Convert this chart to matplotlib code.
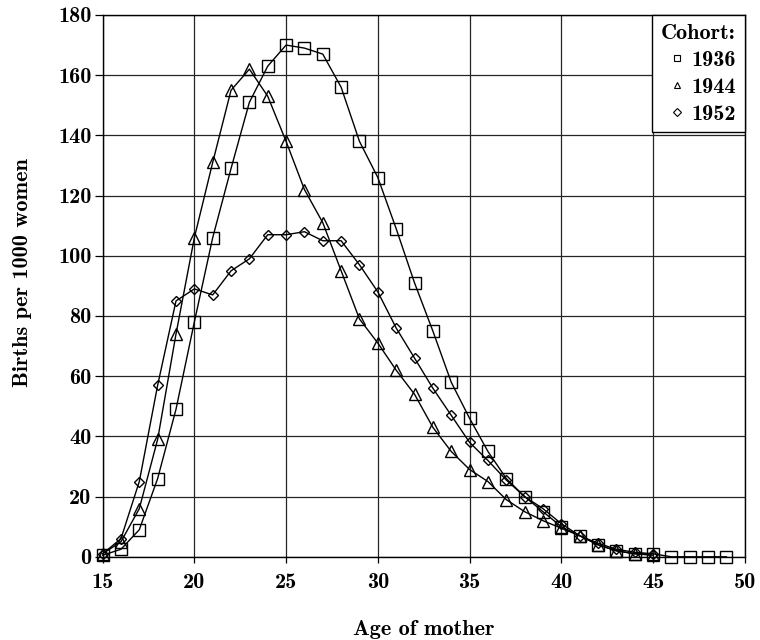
import matplotlib.pyplot as plt
from matplotlib.lines import Line2D
import numpy as np

plt.rcParams['font.family'] = ['cmb10', 'DejaVu Serif']
plt.rcParams['axes.unicode_minus'] = False
plt.rcParams['font.size'] = 16

# age-specific fertility, births per 1000 women
ages_1936 = np.arange(15, 50)
c1936 = [0.5, 2.5, 9, 26, 49, 78, 106, 129, 151, 163, 170, 169, 167, 156, 138,
         126, 109, 91, 75, 58, 46, 35, 26, 20, 15, 10, 7, 4, 2, 1, 1, 0, 0, 0, 0]
ages_1944 = np.arange(15, 46)
c1944 = [1, 5, 16, 39, 74, 106, 131, 155, 162, 153, 138, 122, 111, 95, 79,
         71, 62, 54, 43, 35, 29, 25, 19, 15, 12, 9.5, 7, 4, 2, 1, 0.5]
ages_1952 = np.arange(15, 46)
c1952 = [1, 6, 25, 57, 85, 89, 87, 95, 99, 107, 107, 108, 105, 105, 97,
         88, 76, 66, 56, 47, 38, 32, 25.5, 20, 16, 11, 7, 4.5, 2.5, 1.5, 1]

fig = plt.figure(figsize=(7.6, 6.4), dpi=100)
ax = fig.add_axes([0.135, 0.13, 0.845, 0.8466])

style = dict(color='black', lw=1.0, mfc='none', mec='black', mew=1.0, clip_on=False)
ax.plot(ages_1936, c1936, marker='s', ms=8, **style)
ax.plot(ages_1944, c1944, marker='^', ms=8, **style)
ax.plot(ages_1952, c1952, marker='D', ms=5.5, **style)

ax.set_xlim(15, 50)
ax.set_ylim(0, 180)
ax.set_xticks(range(15, 51, 5))
ax.set_yticks(range(0, 181, 20))
ax.grid(True, color='0.15', lw=0.9)
ax.tick_params(axis='y', direction='out', length=6, pad=2, width=0.9)
ax.tick_params(axis='x', direction='out', length=4, pad=8, width=0.9)
for s in ax.spines.values():
    s.set_linewidth(1.0)

ax.set_xlabel('Age of mother', labelpad=20)
ax.set_ylabel('Births per 1000 women')
ax.yaxis.set_label_coords(-0.11, 0.525)

handles = [Line2D([], [], ls='none', marker=m, ms=4, mfc='none', mec='black', mew=0.8)
           for m in ['s', '^', 'D']]
leg = ax.legend(handles, ['1936', '1944', '1952'], title='Cohort:', loc='upper right',
                fancybox=False, edgecolor='black', framealpha=1, borderaxespad=0,
                handlelength=0.5, handletextpad=0.4, labelspacing=0.33,
                borderpad=0.4, alignment='right', fontsize=16, title_fontsize=16)
leg.get_frame().set_linewidth(1.0)

fig.savefig('out.png', dpi=100)
